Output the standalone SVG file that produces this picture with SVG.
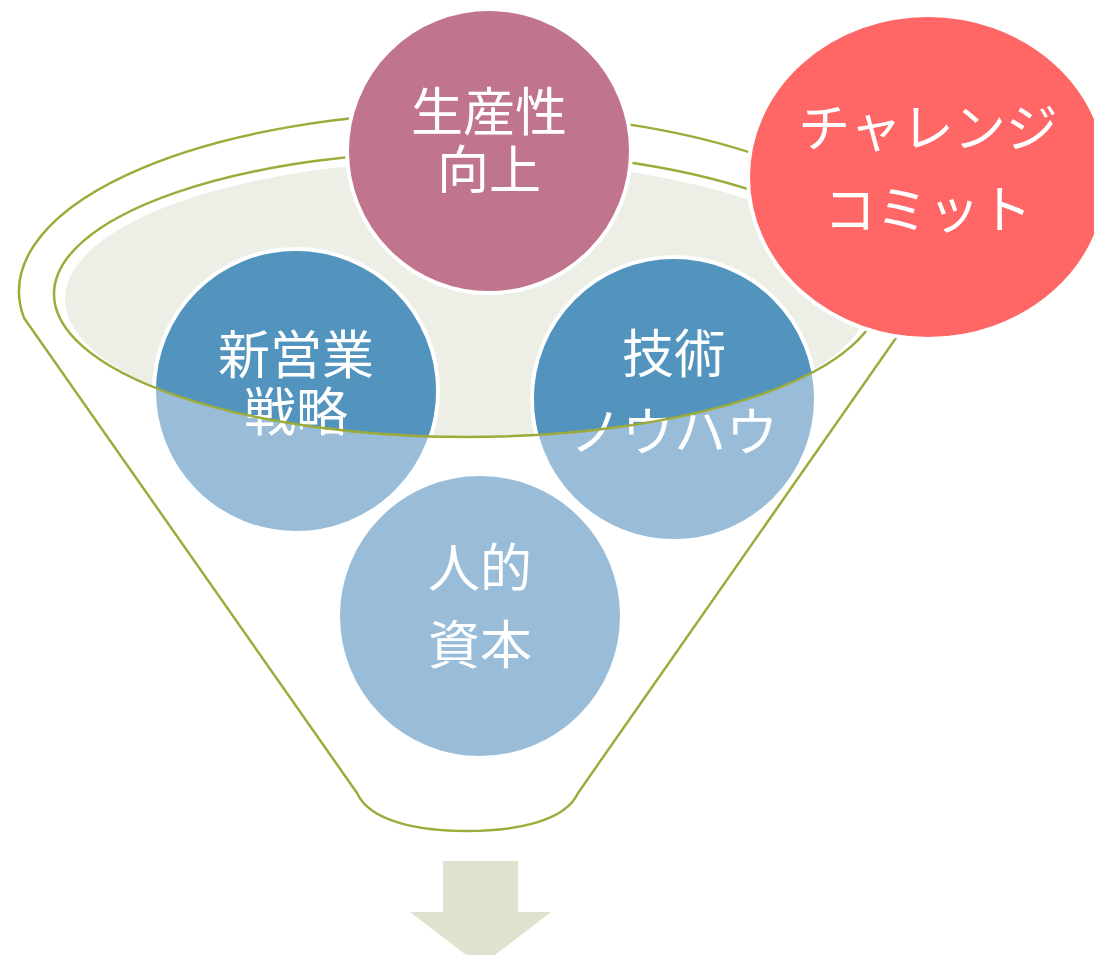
<svg xmlns="http://www.w3.org/2000/svg" width="1094" height="955" viewBox="0 0 1094 955">
<style>
.ol{fill:none;stroke:#9DAB3A;stroke-width:2.5}
.c{stroke:#fff;stroke-width:4}
.dk{fill:#5294BE}
.lt{fill:#99BDD8}
.t{font-family:"Noto Sans CJK JP","Noto Sans",sans-serif;font-size:52px;fill:#fff;text-anchor:middle}
</style>
<defs>
<clipPath id="inner"><ellipse cx="467" cy="294" rx="413" ry="143"/></clipPath>
</defs>
<rect width="1094" height="955" fill="#fff"/>
<g id="funnel">
<path class="ol" d="M357,793 L24,318 A448,179 0 1 1 910,318 L578,793 C565,822 514,831 467,831 C420,831 370,822 357,793 Z" fill="#fff"/>
<ellipse cx="467" cy="299" rx="402" ry="139" fill="#EDEEE5"/>
</g>
<g id="node-shineigyo">
<circle class="c lt" cx="296" cy="391" r="142"/>
<circle class="dk" cx="296" cy="391" r="140" clip-path="url(#inner)"/>
<text class="t" x="296" y="374">新営業</text>
<text class="t" x="296" y="431">戦略</text>
</g>
<g id="node-gijutsu">
<circle class="c lt" cx="674" cy="399" r="142"/>
<circle class="dk" cx="674" cy="399" r="140" clip-path="url(#inner)"/>
<text class="t" x="674" y="373">技術</text>
<text class="t" x="674" y="451">ノウハウ</text>
</g>
<g id="node-jinteki">
<circle class="c lt" cx="480" cy="616" r="142"/>
<text class="t" x="480" y="587">人的</text>
<text class="t" x="480" y="664">資本</text>
</g>
<g id="connectors">
<ellipse class="ol" cx="467" cy="294" rx="413" ry="143"/>
</g>
<g id="node-seisansei">
<circle class="c" fill="#C1758D" cx="489" cy="151" r="142"/>
<text class="t" x="489" y="131">生産性</text>
<text class="t" x="489" y="189">向上</text>
</g>
<g id="node-challenge">
<ellipse class="c" fill="#FF6666" cx="928" cy="177" rx="180" ry="162"/>
<text class="t" x="928" y="147">チャレンジ</text>
<text class="t" x="928" y="229">コミット</text>
</g>
<g id="arrow">
<path d="M443,861 H518 V912 H551 L480.5,966 L410,912 H443 Z" fill="#E0E1CF"/>
</g>
</svg>
